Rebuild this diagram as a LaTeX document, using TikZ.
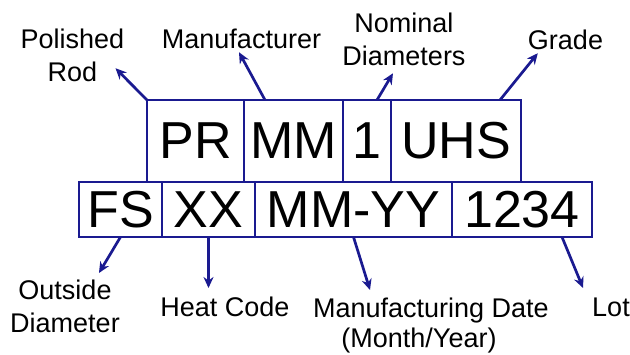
\documentclass[tikz,border=0pt]{standalone}
\usepackage{fontspec}
\setmainfont{Liberation Sans}
\usetikzlibrary{positioning,arrows.meta}
\definecolor{codeblue}{RGB}{26,26,144}

\begin{document}
\begin{tikzpicture}[x=1pt, y=-1pt,
	field/.style={draw=codeblue, line width=2.7pt, inner sep=0pt, outer sep=0pt, font=\fontsize{52}{52}\selectfont},
	topfield/.style={field, minimum height=82pt},
	botfield/.style={field, minimum height=55pt},
	callout/.style={inner sep=0pt, align=center, font=\fontsize{27}{33}\selectfont},
	pointer/.style={codeblue, line width=2.7pt, -{Stealth[length=11pt, width=10pt]}}]
	\useasboundingbox (0,0) rectangle (630,354);

	% Upper row of the marking
	\node[topfield, minimum width=97pt] (pr) at (195.5,141) {PR};
	\node[topfield, minimum width=99pt, right=0pt of pr] (mm) {MM};
	\node[topfield, minimum width=48pt, right=0pt of mm] (one) {1};
	\node[topfield, minimum width=130pt, right=0pt of one] (uhs) {UHS};

	% Lower row of the marking
	\node[botfield, minimum width=83pt] (fs) at (120.5,209.5) {FS};
	\node[botfield, minimum width=93pt, right=0pt of fs] (xx) {XX};
	\node[botfield, minimum width=197pt, right=0pt of xx] (mmyy) {MM-YY};
	\node[botfield, minimum width=140pt, right=0pt of mmyy] (lot) {1234};

	% Labels above
	\node[callout, anchor=north] (prlbl) at (72.5,29) {Polished\\Rod};
	\node[callout, anchor=north] (mmlbl) at (241.5,29) {Manufacturer};
	\node[callout, anchor=north] (ndlbl) at (404,13) {Nominal\\Diameters};
	\node[callout, anchor=north] (grlbl) at (565.5,30) {Grade};

	% Labels below
	\node[callout, anchor=north] (odlbl) at (65,280) {Outside\\Diameter};
	\node[callout, anchor=north] (hclbl) at (225,297) {Heat Code};
	\node[callout, anchor=north, font=\fontsize{27}{30}\selectfont] (mdlbl) at (431,298) {Manufacturing Date\\(Month/Year)\hspace*{24pt}};
	\node[callout, anchor=north] (ltlbl) at (611,298) {Lot};

	% Pointers from the fields to their labels
	\draw[pointer] (pr.north west) -- ([xshift=-9pt,yshift=14pt]prlbl.south east);
	\draw[pointer] ([xshift=21pt]mm.north west) -- ([xshift=-2.5pt,yshift=-3pt]mmlbl.south);
	\draw[pointer] ([xshift=10pt]one.north) -- ([xshift=-11pt,yshift=-7pt]ndlbl.south);
	\draw[pointer] ([xshift=-21pt]uhs.north east) -- ([xshift=10pt,yshift=-3pt]grlbl.south west);
	\draw[pointer] (fs.south) -- ([xshift=-21pt,yshift=7pt]odlbl.north east);
	\draw[pointer, shorten >=9pt] (xx.south) -- (xx.south |- hclbl.north);
	\draw[pointer] (mmyy.south) -- ([xshift=-61pt,yshift=8pt]mdlbl.north);
	\draw[pointer] ([xshift=-30pt]lot.south east) -- ([xshift=-9pt,yshift=10pt]ltlbl.north west);
\end{tikzpicture}
\end{document}
